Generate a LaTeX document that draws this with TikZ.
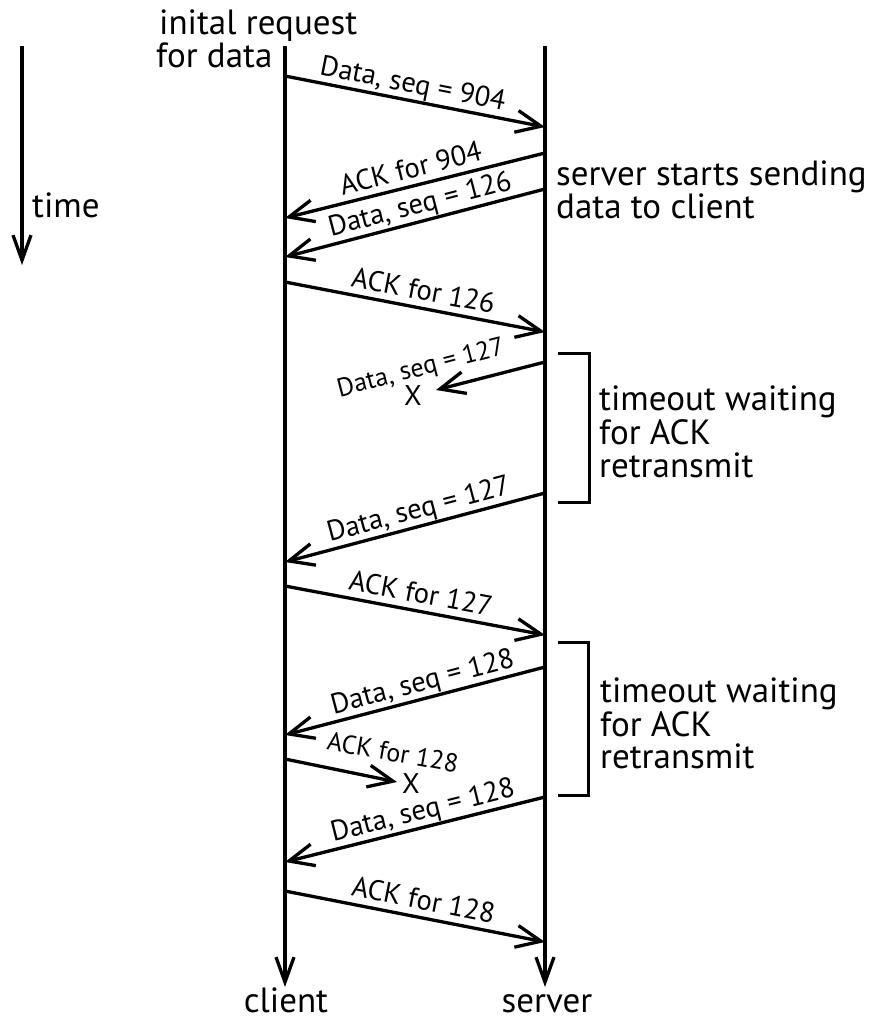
\documentclass[tikz,border=0pt]{standalone}
\usepackage{fontspec}
\setmainfont{PT Sans}
\usetikzlibrary{arrows.meta}
\newcommand\BigTxt{\fontsize{35}{36}\selectfont}
\newcommand\LblTxt{\fontsize{28.5}{29}\selectfont}
\newcommand\LostTxt{\fontsize{26}{27}\selectfont}
\tikzset{
  life/.style={line width=3.3pt, -{Straight Barb[length=25pt,width=18pt]}},
  msg/.style={line width=3.3pt, -{Straight Barb[length=25pt,width=22pt]}},
  lbl/.style={font=\LblTxt, sloped, anchor=base, inner sep=0pt, yshift=8pt},
  lostlbl/.style={font=\LostTxt, anchor=base, inner sep=0pt},
  big/.style={font=\BigTxt, anchor=base west, inner sep=0pt},
  brk/.style={line width=3pt},
}
\begin{document}
\begin{tikzpicture}[x=1pt,y=-1pt]
\useasboundingbox (0,0) rectangle (877,1021);
% time arrow
\coordinate (t0) at (22,46);
\coordinate (t1) at (22,265);
\draw[life] (t0) -- (t1);
\node[big] (timel) at (32,217) {time};
% header text
\node[big] (req1) at (159,34) {inital request};
\node[big] (req2) at (156,67) {for data};
% lifelines
\coordinate (c0) at (285,46);
\coordinate (c1) at (285,987);
\coordinate (s0) at (545,46);
\coordinate (s1) at (545,987);
\draw[life] (c0) -- (c1);
\draw[life] (s0) -- (s1);
\node[big, anchor=base] (cl) at (286,1012) {client};
\node[big, anchor=base] (sv) at (547,1012) {server};
% server note
\node[big] (sn1) at (556,185) {server starts sending};
\node[big] (sn2) at (556,218) {data to client};
% messages
\coordinate (m1a) at (285,76);  \coordinate (m1b) at (545,127);
\draw[msg] (m1a) -- node[lbl, pos=0.48] (m1t) {Data, seq = 904} (m1b);
\coordinate (m2a) at (545,153); \coordinate (m2b) at (285,218);
\draw[msg] (m2a) -- node[lbl, pos=0.5] (m2t) {ACK for 904} (m2b);
\coordinate (m3a) at (545,189); \coordinate (m3b) at (285,257);
\draw[msg] (m3a) -- node[lbl, pos=0.465] (m3t) {Data, seq = 126} (m3b);
\coordinate (m4a) at (285,282); \coordinate (m4b) at (545,332);
\draw[msg] (m4a) -- node[lbl, pos=0.52] (m4t) {ACK for 126} (m4b);
% lost data 127
\coordinate (l1a) at (545,362); \coordinate (l1b) at (436,390);
\draw[msg] (l1a) -- (l1b);
\node[lostlbl, rotate=14.6, yshift=17pt] (l1t) at (427,392) {Data, seq = 127};
\node[font=\LblTxt, inner sep=0pt] (x1) at (413,396) {X};
% bracket 1
\coordinate (b1a) at (558,353); \coordinate (b1b) at (589,353);
\coordinate (b1c) at (589,502); \coordinate (b1d) at (558,502);
\draw[brk] (b1a) -- (b1b) -- (b1c) -- (b1d);
\node[big] (to1a) at (599,410) {timeout waiting};
\node[big] (to1b) at (599,444) {for ACK};
\node[big] (to1c) at (599,477) {retransmit};
% retransmission 127
\coordinate (m6a) at (545,493); \coordinate (m6b) at (285,562);
\draw[msg] (m6a) -- node[lbl, pos=0.47] (m6t) {Data, seq = 127} (m6b);
\coordinate (m7a) at (285,586); \coordinate (m7b) at (545,635);
\draw[msg] (m7a) -- node[lbl, pos=0.51] (m7t) {ACK for 127} (m7b);
% bracket 2
\coordinate (b2a) at (558,642); \coordinate (b2b) at (588,642);
\coordinate (b2c) at (588,795); \coordinate (b2d) at (558,795);
\draw[brk] (b2a) -- (b2b) -- (b2c) -- (b2d);
\node[big] (to2a) at (600,702) {timeout waiting};
\node[big] (to2b) at (600,736) {for ACK};
\node[big] (to2c) at (600,768) {retransmit};
% data 128
\coordinate (m8a) at (545,667); \coordinate (m8b) at (285,735);
\draw[msg] (m8a) -- node[lbl, pos=0.455] (m8t) {Data, seq = 128} (m8b);
% lost ACK 128
\coordinate (l2a) at (285,759); \coordinate (l2b) at (397,782);
\draw[msg] (l2a) -- (l2b);
\node[lostlbl, rotate=-10, yshift=19pt] (l2t) at (388,780) {ACK for 128};
\node[font=\LblTxt, inner sep=0pt] (x2) at (411,784) {X};
% retransmission 128
\coordinate (m10a) at (545,797); \coordinate (m10b) at (285,862);
\draw[msg] (m10a) -- node[lbl, pos=0.455] (m10t) {Data, seq = 128} (m10b);
\coordinate (m11a) at (285,891); \coordinate (m11b) at (545,942);
\draw[msg] (m11a) -- node[lbl, pos=0.52] (m11t) {ACK for 128} (m11b);
\end{tikzpicture}
\end{document}
